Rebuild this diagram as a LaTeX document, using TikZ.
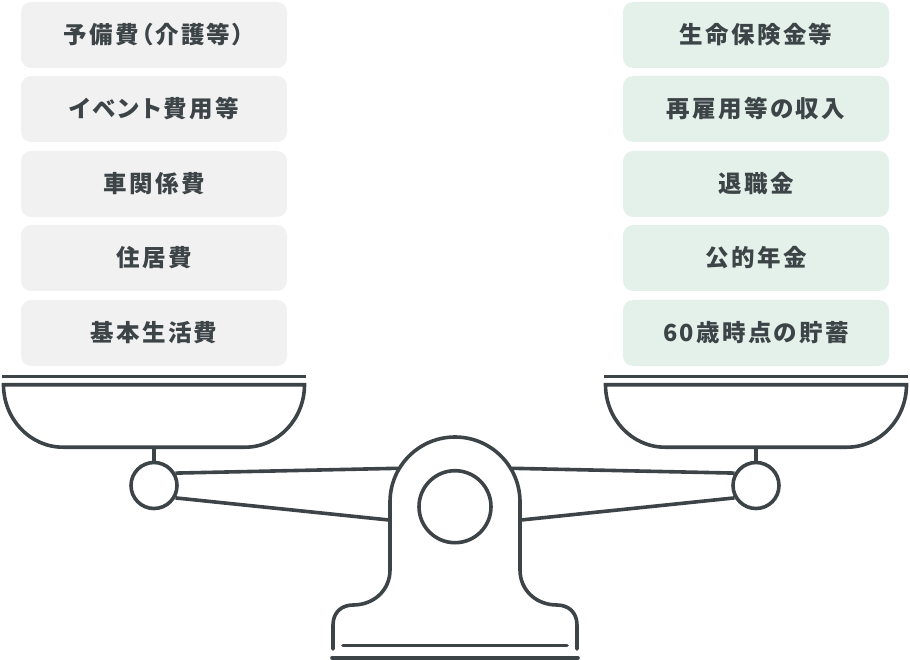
\documentclass[tikz,border=0pt]{standalone}
\usepackage{fontspec}
\setmainfont{Noto Sans CJK JP}[LetterSpace=10,RawFeature={+palt}]
\definecolor{inkgray}{HTML}{3D4447}
\definecolor{costgray}{HTML}{F1F1F1}
\definecolor{fundgreen}{HTML}{E3F1EA}

\begin{document}
\begin{tikzpicture}[x=1pt,y=-1pt,
	costbox/.style={rectangle, rounded corners=10pt, fill=costgray, text=inkgray, font=\fontsize{23.5}{26}\selectfont\bfseries, minimum width=266pt, minimum height=66pt, inner sep=0pt, text height=22pt, text depth=4.2pt},
	fundbox/.style={costbox, fill=fundgreen},
	beam/.style={draw=inkgray, line width=3.6pt},
	pivot/.style={circle, draw=inkgray, line width=3.6pt, fill=white, minimum size=46pt, inner sep=0pt}]
		\useasboundingbox (0,0) rectangle (910,660);

		\node[costbox]	(yobi) at (154,35)	{予備費（介護等）};
		\node[costbox]	(event) at (154,109)	{イベント費用等};
		\node[costbox]	(car) at (154,184)	{車関係費};
		\node[costbox]	(house) at (154,258)	{住居費};
		\node[costbox]	(basic) at (154,333)	{基本生活費};
		\node[fundbox]	(insurance) at (756,35)	{生命保険金等};
		\node[fundbox]	(rehire) at (756,109)	{再雇用等の収入};
		\node[fundbox]	(retire) at (756,184)	{退職金};
		\node[fundbox]	(pension) at (756,258)	{公的年金};
		\node[fundbox]	(savings) at (756,333)	{60歳時点の貯蓄};

		\draw[beam] (2,376.5) -- (306,376.5);
		\draw[beam] (604,376.5) -- (908,376.5);
		\draw[beam] (3.5,384.7) -- (304.5,384.7) .. controls (304.5,419) and (278,447.2) .. (245,447.2) -- (63,447.2) .. controls (30,447.2) and (3.5,419) .. (3.5,384.7) -- cycle;
		\draw[beam] (605.5,384.7) -- (906.5,384.7) .. controls (906.5,419) and (880,447.2) .. (847,447.2) -- (665,447.2) .. controls (632,447.2) and (605.5,419) .. (605.5,384.7) -- cycle;

		\draw[beam, line cap=round] (333,649) -- (333,625) .. controls (333,612) and (342,605) .. (353,605) .. controls (374,605) and (390,590) .. (390,570) -- (390,502) arc[start angle=180, end angle=0, x radius=65, y radius=-65] -- (520,570) .. controls (520,590) and (536,605) .. (557,605) .. controls (568,605) and (577,612) .. (577,625) -- (577,649);
		\draw[beam, line cap=round] (343,645.5) -- (567,645.5);
		\draw[beam, line cap=round] (332,658) -- (578,658);

		\node[pivot]	(leftpivot) at (154,485.5)	{};
		\node[pivot]	(rightpivot) at (756,485.5)	{};
		\node[pivot, minimum size=72pt]	(centerpivot) at (455,506.7)	{};

		\coordinate (leftpan) at (154,447);
		\coordinate (rightpan) at (756,447);
		\coordinate (lefttop) at (398,468.3);
		\coordinate (leftlow) at (389,520);
		\coordinate (righttop) at (512,468.3);
		\coordinate (rightlow) at (521,520);

		\draw[beam] (leftpan) -- (leftpivot);
		\draw[beam] (rightpan) -- (rightpivot);
		\draw[beam] (leftpivot.30) -- (lefttop);
		\draw[beam] (leftpivot.-30) -- (leftlow);
		\draw[beam] (rightpivot.150) -- (righttop);
		\draw[beam] (rightpivot.210) -- (rightlow);
		\end{tikzpicture}
\end{document}
